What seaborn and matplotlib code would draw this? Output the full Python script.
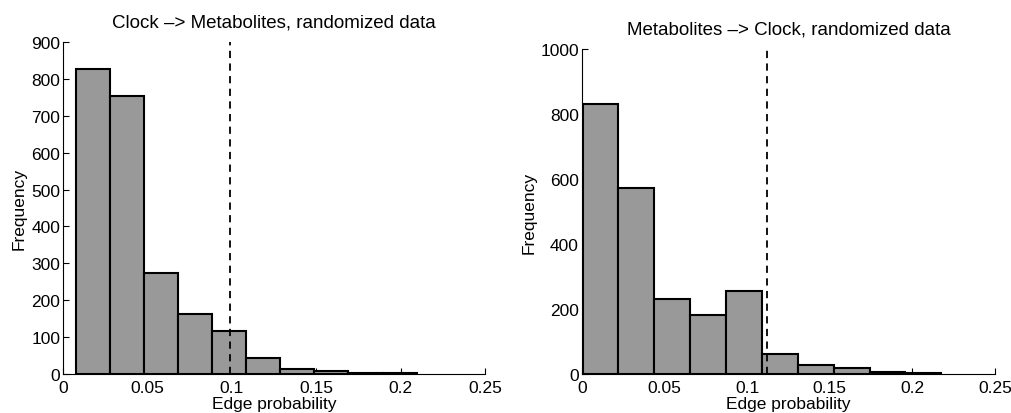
import numpy as np
import matplotlib
matplotlib.use("Agg")
import matplotlib.pyplot as plt
import matplotlib.ticker as mticker
import seaborn as sns

# Clock -> Metabolites histogram (bin edges and counts)
clock_edges = [0.0075, 0.0277, 0.0479, 0.0681, 0.0883, 0.1085, 0.1287, 0.1489, 0.1691, 0.1893, 0.2095]
clock_counts = [827, 753, 275, 162, 117, 43, 14, 8, 3, 3]
clock_cutoff = 0.099

# Metabolites -> Clock histogram
metab_edges = [0.0005, 0.0222, 0.0439, 0.0656, 0.0873, 0.1090, 0.1307, 0.1524, 0.1741, 0.1958, 0.2175]
metab_counts = [832, 572, 232, 182, 254, 62, 29, 18, 7, 3]
metab_cutoff = 0.1123

titles = ["Clock \u2013> Metabolites, randomized data", "Metabolites \u2013> Clock, randomized data"]
x_ticks = [0, 0.05, 0.1, 0.15, 0.2, 0.25]

sns.set_style("ticks")
plt.rcParams['font.family'] = ['Liberation Sans', 'DejaVu Sans']
plt.rcParams.update({"text.color": "black", "axes.labelcolor": "black",
                     "xtick.color": "black", "ytick.color": "black",
                     "axes.edgecolor": "black"})

fig = plt.figure(figsize=(10.11, 4.14), dpi=100)
ax1 = fig.add_axes([0.0623, 0.0942, 0.4174, 0.802])
ax2 = fig.add_axes([0.5754, 0.0942, 0.4088, 0.785])


def draw_hist(ax, edges, counts, cutoff, title, ymax, ystep):
    centers = [(a + b) / 2 for a, b in zip(edges[:-1], edges[1:])]
    sns.histplot(x=centers, weights=counts, bins=edges, ax=ax,
                 color="#999999", alpha=1, edgecolor="black", linewidth=1.5)
    ax.axvline(cutoff, color="black", linestyle="--", linewidth=1.3, dashes=(4, 3))
    ax.set_xlim(0, 0.25)
    ax.set_ylim(0, ymax)
    ax.set_xticks(x_ticks)
    ax.xaxis.set_major_formatter(mticker.FormatStrFormatter('%g'))
    ax.set_yticks(np.arange(0, ymax + 1, ystep))
    ax.tick_params(direction="in", length=4, labelsize=12.5, width=0.8)
    ax.tick_params(axis="x", pad=4)
    ax.tick_params(axis="y", pad=2)
    for s in ["top", "right"]:
        ax.spines[s].set_visible(False)
    for s in ["left", "bottom"]:
        ax.spines[s].set_linewidth(0.8)
    ax.set_xlabel("Edge probability", fontsize=12.5, labelpad=1)
    ax.set_ylabel("Frequency", fontsize=12.5, labelpad=3)
    ax.set_title(title, fontsize=13.5, pad=11)


draw_hist(ax1, clock_edges, clock_counts, clock_cutoff, titles[0], 900, 100)
draw_hist(ax2, metab_edges, metab_counts, metab_cutoff, titles[1], 1000, 200)

fig.savefig("out.png", dpi=100)
